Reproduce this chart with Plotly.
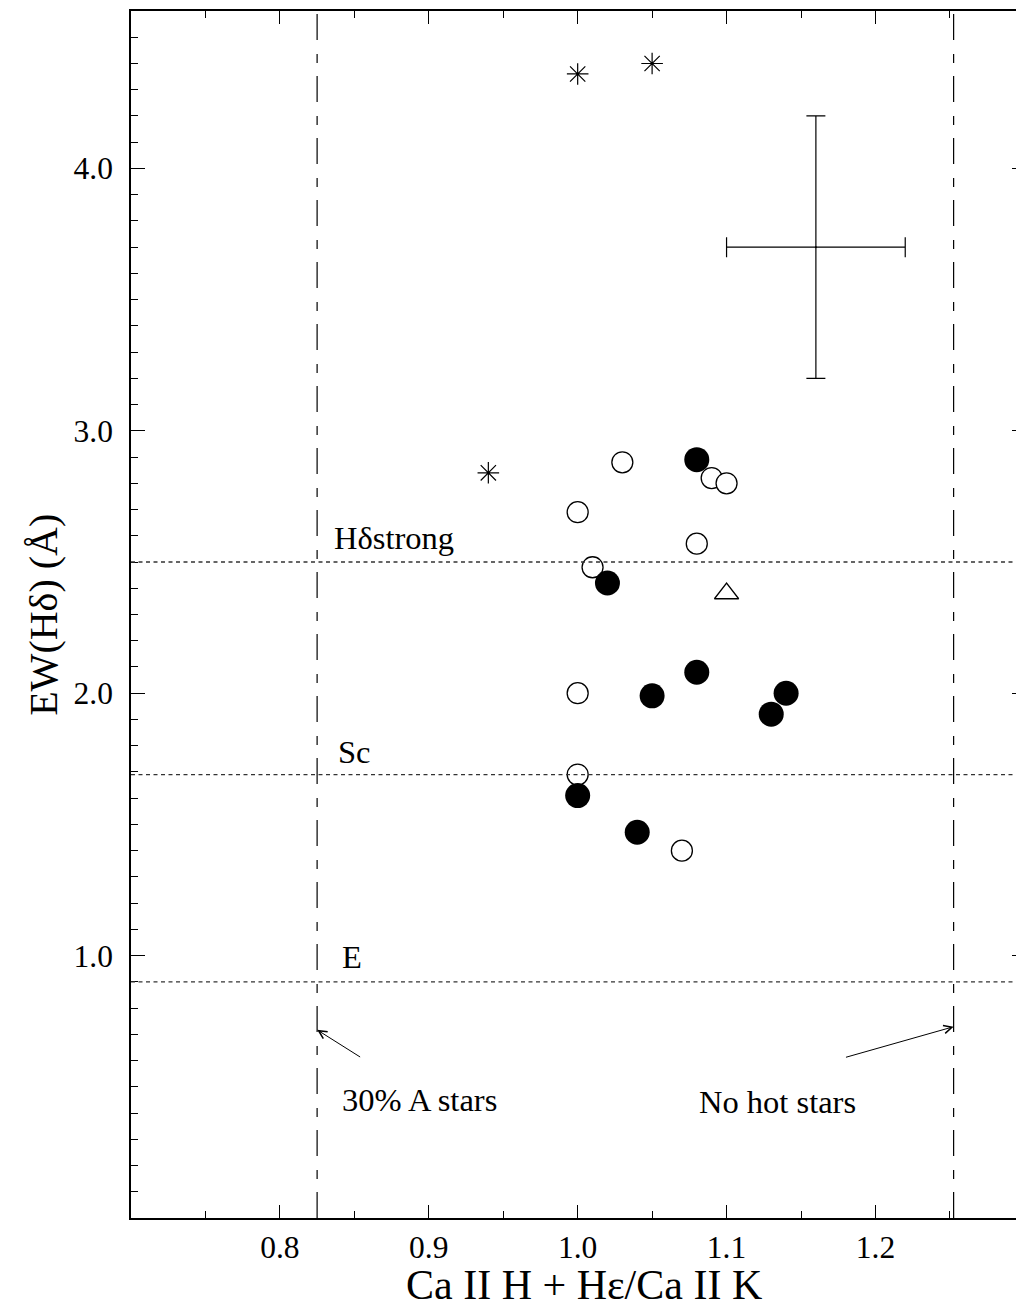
import plotly.graph_objects as go

# Ca II H + Hepsilon / Ca II K index vs. EW(Hdelta)
star_x = [1.00, 1.05, 0.94]
star_y = [4.36, 4.40, 2.84]

open_x = [1.03, 1.09, 1.10, 1.00, 1.08, 1.01, 1.00, 1.00, 1.07]
open_y = [2.88, 2.82, 2.80, 2.69, 2.57, 2.48, 2.00, 1.69, 1.40]

filled_x = [1.08, 1.02, 1.08, 1.05, 1.14, 1.13, 1.00, 1.04]
filled_y = [2.89, 2.42, 2.08, 1.99, 2.00, 1.92, 1.61, 1.47]

tri_x = [1.10]
tri_y = [2.38]

# typical uncertainty
err_x, err_y = [1.16], [3.70]
err_dx, err_dy = [0.06], [0.50]

# reference levels
level_y = [2.50, 1.69, 0.90]
level_names = ["H\u03b4strong", "Sc", "E"]
level_label_x = [0.8347, 0.8374, 0.8401]
level_label_y = [2.59, 1.775, 0.995]

# model limits
limit_x = [0.825, 1.2525]
limit_names = ["30% A stars", "No hot stars"]

x_ticks = [0.8, 0.9, 1.0, 1.1, 1.2]
y_ticks = [1.0, 2.0, 3.0, 4.0]

X_RANGE = [0.7, 1.2944]
Y_RANGE = [0.0, 4.6]
FONT = "Liberation Serif"
LABEL_SIZE = 32.5
TICK_SIZE = 31.5

fig = go.Figure()

fig.add_trace(go.Scatter(
    x=open_x, y=open_y, mode="markers",
    marker=dict(symbol="circle", size=21, color="white",
                line=dict(color="black", width=1.3)),
    showlegend=False))

fig.add_trace(go.Scatter(
    x=filled_x, y=filled_y, mode="markers",
    marker=dict(symbol="circle", size=25, color="black",
                line=dict(width=0)),
    showlegend=False))

fig.add_trace(go.Scatter(
    x=star_x, y=star_y, mode="markers",
    marker=dict(symbol="asterisk-open", size=18, color="black",
                line=dict(color="black", width=1.2)),
    showlegend=False))

fig.add_trace(go.Scatter(
    x=tri_x, y=tri_y, mode="markers",
    marker=dict(symbol="triangle-up-open", size=21, color="black",
                line=dict(color="black", width=1.3)),
    showlegend=False))

fig.add_trace(go.Scatter(
    x=err_x, y=err_y, mode="markers",
    marker=dict(size=2, color="black"),
    error_x=dict(type="data", array=err_dx, color="black",
                 thickness=1.2, width=10),
    error_y=dict(type="data", array=err_dy, color="black",
                 thickness=1.2, width=9.5),
    showlegend=False))

# right-hand axis: only the major tick marks reach the edge of the page
fig.add_trace(go.Scatter(x=[None], y=[None], yaxis="y2", showlegend=False))

shapes = []
for yv in level_y:
    shapes.append(dict(type="line", xref="paper", yref="y",
                       x0=0, x1=1, y0=yv, y1=yv,
                       line=dict(color="#333", width=1.3, dash="4px,3.5px")))
for xv in limit_x:
    shapes.append(dict(type="line", xref="x", yref="paper",
                       x0=xv, x1=xv, y0=0, y1=1,
                       line=dict(color="black", width=1.2,
                                 dash="26px,13px,9px,14px")))

annotations = []
for name, lx, ly in zip(level_names, level_label_x, level_label_y):
    annotations.append(dict(x=lx, y=ly, xref="x", yref="y", text=name,
                            showarrow=False, xanchor="left", yanchor="middle",
                            font=dict(family=FONT, size=LABEL_SIZE,
                                      color="black")))

# arrows pointing at the two limit lines
annotations.append(dict(x=limit_x[0], y=0.717, ax=0.8549, ay=0.61,
                        xref="x", yref="y", axref="x", ayref="y",
                        text="", showarrow=True, arrowhead=5, arrowsize=1.6,
                        arrowwidth=1, arrowcolor="black"))
annotations.append(dict(x=limit_x[1], y=0.729, ax=1.1792, ay=0.611,
                        xref="x", yref="y", axref="x", ayref="y",
                        text="", showarrow=True, arrowhead=5, arrowsize=1.6,
                        arrowwidth=1, arrowcolor="black"))
annotations.append(dict(x=0.8401, y=0.45, xref="x", yref="y",
                        text=limit_names[0], showarrow=False,
                        xanchor="left", yanchor="middle",
                        font=dict(family=FONT, size=LABEL_SIZE, color="black")))
annotations.append(dict(x=1.0799, y=0.442, xref="x", yref="y",
                        text=limit_names[1], showarrow=False,
                        xanchor="left", yanchor="middle",
                        font=dict(family=FONT, size=LABEL_SIZE, color="black")))

# axis titles
annotations.append(dict(x=0.5124, y=-0.0555, xref="paper", yref="paper",
                        text="Ca II H + H\u03b5/Ca II K", showarrow=False,
                        xanchor="center", yanchor="middle",
                        font=dict(family=FONT, size=42, color="black")))
annotations.append(dict(x=-0.0985, y=0.4996, xref="paper", yref="paper",
                        text="EW(H\u03b4) (\u00c5)", showarrow=False,
                        textangle=-90, xanchor="center", yanchor="middle",
                        font=dict(family=FONT, size=40, color="black")))

fig.update_layout(
    width=1016, height=1309,
    margin=dict(l=131, r=0, t=11, b=91, pad=0),
    paper_bgcolor="white", plot_bgcolor="white",
    font=dict(family=FONT, size=TICK_SIZE, color="black"),
    showlegend=False,
    shapes=shapes, annotations=annotations,
    xaxis=dict(range=X_RANGE, showgrid=False, zeroline=False,
               showline=True, linecolor="black", linewidth=1.5,
               mirror="ticks", ticks="inside", ticklen=13, tickwidth=1.2,
               tickcolor="black", tickvals=x_ticks, tickformat=".1f",
               tickfont=dict(family=FONT, size=TICK_SIZE, color="black"),
               minor=dict(ticks="inside", ticklen=7, tickwidth=1.2,
                          tickcolor="black", dtick=0.05, tick0=0.75,
                          showgrid=False)),
    yaxis=dict(range=Y_RANGE, showgrid=False, zeroline=False,
               showline=True, linecolor="black", linewidth=1.5,
               mirror=False, ticks="inside", ticklen=14, tickwidth=1.2,
               tickcolor="black", tickvals=y_ticks, tickformat=".1f",
               ticklabelstandoff=10,
               tickfont=dict(family=FONT, size=TICK_SIZE, color="black"),
               minor=dict(ticks="inside", ticklen=7, tickwidth=1.2,
                          tickcolor="black", dtick=0.1, tick0=0,
                          showgrid=False)),
    yaxis2=dict(range=Y_RANGE, overlaying="y", side="right", anchor="x",
                showgrid=False, zeroline=False, showline=False,
                ticks="inside", ticklen=4, tickwidth=1.2, tickcolor="black",
                tickvals=y_ticks, showticklabels=False),
)

fig.write_html("out.html")
